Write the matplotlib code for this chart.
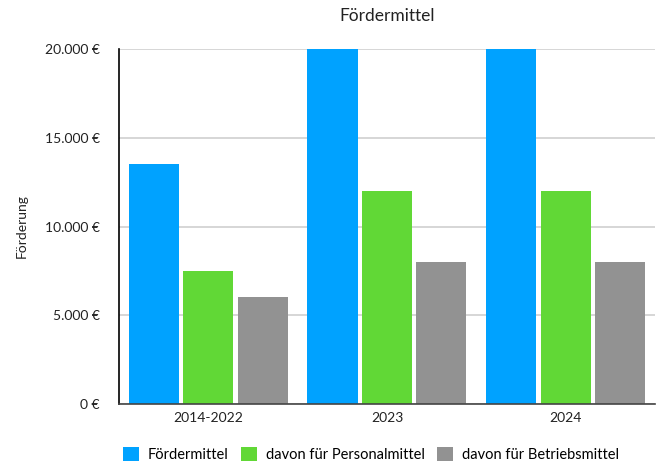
import numpy as np
import matplotlib.pyplot as plt
from matplotlib.ticker import FuncFormatter

plt.rcParams['font.family'] = ['Lato', 'DejaVu Sans']

# Daten
kategorien = ["2014-2022", "2023", "2024"]
foerdermittel = [13500, 20000, 20000]
personalmittel = [7500, 12000, 12000]
betriebsmittel = [6000, 8000, 8000]

serien = ["Fördermittel", "davon für Personalmittel", "davon für Betriebsmittel"]
farben = ["#00A2FF", "#61D836", "#929292"]

fig = plt.figure(figsize=(6.64, 4.65), dpi=100)
ax = fig.add_axes([0.1792, 0.1312, 0.8072, 0.7634])

x = np.arange(len(kategorien))
breite = 0.28
abstand = 0.305
for i, (werte, name, farbe) in enumerate(zip([foerdermittel, personalmittel, betriebsmittel], serien, farben)):
    ax.bar(x + (i - 1) * abstand, werte, width=breite, color=farbe, label=name, zorder=3)

ax.set_xlim(-0.5, 2.5)
ax.set_ylim(0, 20000)
ax.set_yticks([0, 5000, 10000, 15000, 20000])
ax.yaxis.set_major_formatter(FuncFormatter(lambda v, p: f"{int(v):,} €".replace(",", ".")))
ax.set_xticks(x)
ax.set_xticklabels(kategorien)
ax.tick_params(axis="both", length=0, labelsize=10, colors="#222222")
ax.tick_params(axis="y", pad=14)
ax.tick_params(axis="x", pad=6)

ax.grid(axis="y", color="#d0d0d0", linewidth=1.2, zorder=0)
for s in ["top", "right"]:
    ax.spines[s].set_visible(False)
ax.spines["left"].set_color("black")
ax.spines["left"].set_linewidth(1.2)
ax.spines["bottom"].set_color("#444444")
ax.spines["bottom"].set_linewidth(1.2)
ax.spines["bottom"].set_zorder(4)

ax.set_ylabel("Förderung", fontsize=10, color="#222222", labelpad=12)
ax.set_title("Fördermittel", fontsize=12.5, color="#222222", pad=20)

ax.legend(loc="upper center", bbox_to_anchor=(0.47, -0.085), ncol=3, frameon=False,
          fontsize=10.5, handlelength=1.1, handleheight=1.1, handletextpad=0.6, columnspacing=0.85)

plt.savefig("out.png", dpi=100)
